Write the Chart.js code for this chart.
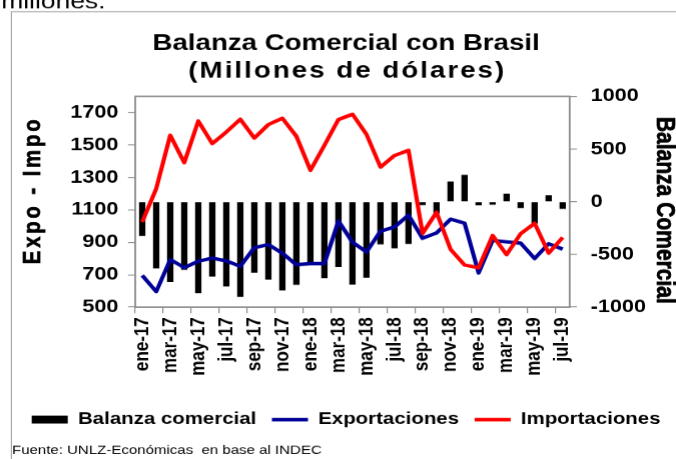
<!DOCTYPE html>
<html lang="es">
<head>
<meta charset="utf-8">
<title>Balanza Comercial con Brasil</title>
<script src="https://cdn.jsdelivr.net/npm/chart.js@4.4.1/dist/chart.umd.min.js"></script>
<style>
  html, body { margin: 0; padding: 0; background: #fff; overflow: hidden; }
  canvas { display: block; }
</style>
</head>
<body>
<!-- el gráfico original está estirado en horizontal: se dibuja a 563px y se muestra a 676px -->
<canvas id="grafico" width="563" height="459" style="width:676px;height:459px"></canvas>
<script>
// Datos (millones de dólares)
const meses = ['ene-17', 'feb-17', 'mar-17', 'abr-17', 'may-17', 'jun-17', 'jul-17', 'ago-17', 'sep-17', 'oct-17', 'nov-17', 'dic-17',
               'ene-18', 'feb-18', 'mar-18', 'abr-18', 'may-18', 'jun-18', 'jul-18', 'ago-18', 'sep-18', 'oct-18', 'nov-18', 'dic-18',
               'ene-19', 'feb-19', 'mar-19', 'abr-19', 'may-19', 'jun-19', 'jul-19'];
const exportaciones = [696, 596, 793, 744, 783, 803, 785, 752, 867, 886, 833, 762, 768, 768, 1031, 901,
                       840, 969, 994, 1068, 925, 958, 1043, 1018, 711, 912, 903, 895, 800, 891, 858];
const importaciones = [1025, 1231, 1560, 1391, 1648, 1509, 1580, 1659, 1543, 1626, 1665, 1554, 1344, 1498, 1657, 1690,
                       1566, 1364, 1435, 1467, 955, 1085, 857, 760, 743, 942, 824, 953, 1017, 833, 930];
const balanza = [-324, -632, -763, -645, -868, -711, -803, -902, -673, -738, -842, -788, -576, -725, -620, -785,
                 -721, -404, -442, -400, -32, -110, 192, 256, -34, -27, 78, -60, -205, 62, -68];
const ticksIzq = [500, 700, 900, 1100, 1300, 1500, 1700];
const ticksDer = [-1000, -500, 0, 500, 1000];
const titulo = ['Balanza Comercial con Brasil', '(Millones de dólares)'];

const gris = '#8c8c8c';
const familia = "'Liberation Sans', Arial, sans-serif";
Chart.defaults.font.family = familia;
Chart.defaults.color = '#000';

// Título, marco del área de trazado, títulos de ejes, fuente y recortes de la página
const decoracion = {
    id: 'decoracion',
    beforeDatasetsDraw(chart) {
        const { ctx, chartArea: a } = chart;
        ctx.save();
        ctx.strokeStyle = gris;
        ctx.lineWidth = 1.5;
        ctx.strokeRect(a.left, a.top, a.right - a.left, a.bottom - a.top);
        ctx.restore();
    },
    afterDraw(chart) {
        const { ctx } = chart;
        ctx.save();
        ctx.fillStyle = '#000';
        ctx.strokeStyle = '#000';

        // texto cortado del documento, arriba
        ctx.font = '22px ' + familia;
        ctx.textBaseline = 'alphabetic';
        ctx.fillText('millones.', 1, 8);

        // marco exterior
        ctx.strokeStyle = '#a6a6a6';
        ctx.lineWidth = 1;
        ctx.beginPath();
        ctx.moveTo(9.5, chart.height);
        ctx.lineTo(9.5, 11.5);
        ctx.lineTo(chart.width, 11.5);
        ctx.stroke();

        // título del gráfico (la segunda línea va espaciada en el original)
        ctx.fillStyle = '#000';
        ctx.textAlign = 'center';
        ctx.textBaseline = 'middle';
        ctx.font = 'bold 23px ' + familia;
        ctx.fillText(titulo[0], 288, 44);
        ctx.letterSpacing = '1.7px';
        ctx.fillText(titulo[1], 289, 71.5);
        ctx.letterSpacing = '0px';

        // título eje izquierdo
        ctx.save();
        ctx.translate(33, 190);
        ctx.rotate(-Math.PI / 2);
        ctx.font = 'bold 20px ' + familia;
        ctx.textBaseline = 'alphabetic';
        ctx.letterSpacing = '3px';
        ctx.strokeStyle = '#000';
        ctx.lineWidth = 0.6;
        ctx.fillText('Expo - Impo', 0, 0);
        ctx.strokeText('Expo - Impo', 0, 0);
        ctx.restore();

        // título eje derecho
        ctx.save();
        ctx.translate(547, 210);
        ctx.rotate(Math.PI / 2);
        ctx.font = 'bold 21px ' + familia;
        ctx.textBaseline = 'alphabetic';
        ctx.strokeStyle = '#000';
        ctx.lineWidth = 0.6;
        ctx.fillText('Balanza Comercial', 0, 0);
        ctx.strokeText('Balanza Comercial', 0, 0);
        ctx.restore();

        // fuente
        ctx.textAlign = 'left';
        ctx.font = '12.5px ' + familia;
        ctx.fillText('Fuente: UNLZ-Económicas  en base al INDEC', 10, 450);
        ctx.restore();
    }
};

const ctx = document.getElementById('grafico').getContext('2d');
new Chart(ctx, {
    data: {
        labels: meses,
        datasets: [
            {
                type: 'bar',
                label: 'Balanza comercial',
                data: balanza,
                yAxisID: 'y2',
                backgroundColor: '#000',
                barPercentage: 0.45,
                categoryPercentage: 1,
                order: 3
            },
            {
                type: 'line',
                label: 'Exportaciones',
                data: exportaciones,
                yAxisID: 'y',
                borderColor: '#000099',
                backgroundColor: '#000099',
                borderWidth: 3.5,
                borderJoinStyle: 'round',
                pointRadius: 0,
                tension: 0,
                order: 2
            },
            {
                type: 'line',
                label: 'Importaciones',
                data: importaciones,
                yAxisID: 'y',
                borderColor: '#ff0000',
                backgroundColor: '#ff0000',
                borderWidth: 3.5,
                borderJoinStyle: 'round',
                pointRadius: 0,
                tension: 0,
                order: 1
            }
        ]
    },
    options: {
        responsive: false,
        devicePixelRatio: 1.2,
        animation: false,
        layout: { padding: { top: 96.2, left: 13, right: 0, bottom: 21.5 } },
        scales: {
            x: {
                type: 'category',
                offset: true,
                grid: {
                    offset: true,
                    drawOnChartArea: false,
                    tickLength: 6,
                    tickColor: c => (c.index % 2 === 0 ? gris : 'rgba(0,0,0,0)')
                },
                border: { display: false },
                ticks: {
                    autoSkip: false,
                    minRotation: 90,
                    maxRotation: 90,
                    padding: 4,
                    font: { size: 17, weight: 'bold' },
                    callback: function (value, index) {
                        return index % 2 === 0 ? this.getLabelForValue(value) : '';
                    }
                },
                afterFit: s => { s.height = 90.8; }
            },
            y: {
                type: 'linear',
                position: 'left',
                min: 500,
                max: 1800,
                afterBuildTicks: s => { s.ticks = ticksIzq.map(v => ({ value: v })); },
                grid: { drawOnChartArea: false, tickLength: 6, tickColor: gris },
                border: { display: false },
                ticks: { padding: 8, font: { size: 18, weight: 'bold' }, callback: v => String(v) },
                afterFit: s => { s.width = 99.5; }
            },
            y2: {
                type: 'linear',
                position: 'right',
                min: -1000,
                max: 1000,
                afterBuildTicks: s => { s.ticks = ticksDer.map(v => ({ value: v })); },
                grid: { drawOnChartArea: false, tickLength: 6, tickColor: gris },
                border: { display: false },
                ticks: { padding: 11.5, font: { size: 18, weight: 'bold' }, callback: v => String(v) },
                afterFit: s => { s.width = 89; }
            }
        },
        plugins: {
            title: { display: false },
            legend: {
                position: 'bottom',
                labels: {
                    usePointStyle: true,
                    pointStyleWidth: 30,
                    boxHeight: 8,
                    padding: 13,
                    color: '#000',
                    font: { size: 17, weight: 'bold' },
                    generateLabels: chart => chart.data.datasets.map((ds, i) => ({
                        text: ds.label,
                        datasetIndex: i,
                        fillStyle: ds.type === 'line' ? ds.borderColor : ds.backgroundColor,
                        strokeStyle: ds.type === 'line' ? ds.borderColor : ds.backgroundColor,
                        lineWidth: ds.type === 'line' ? 3.5 : 0,
                        pointStyle: ds.type === 'line' ? 'line' : 'rect',
                        hidden: false
                    }))
                }
            },
            tooltip: { enabled: false }
        }
    },
    plugins: [decoracion]
});
</script>
</body>
</html>
